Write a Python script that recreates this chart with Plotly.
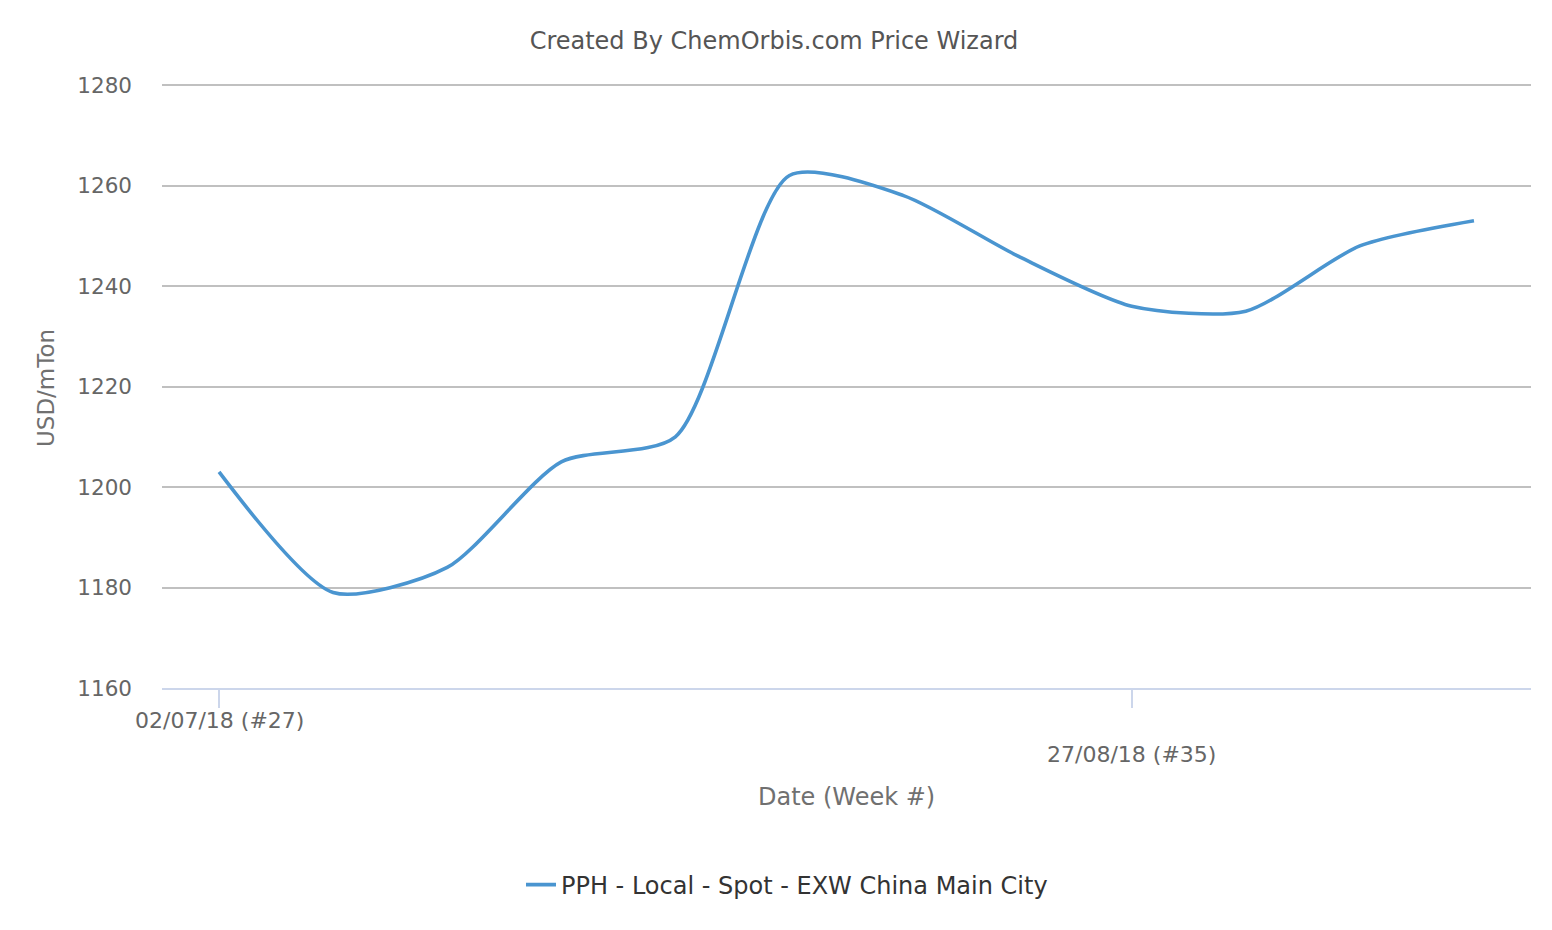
import plotly.graph_objects as go

# ---- data ----
dates = ["2018-07-02", "2018-07-09", "2018-07-16", "2018-07-23", "2018-07-30", "2018-08-06",
         "2018-08-13", "2018-08-20", "2018-08-27", "2018-09-03", "2018-09-10", "2018-09-17"]
prices = [1203, 1179, 1184, 1205, 1210, 1262, 1258, 1246, 1236, 1235, 1248, 1253]
series_name = "PPH - Local - Spot - EXW China Main City"
tick_dates = ["2018-07-02", "2018-08-27"]
tick_labels = ["02/07/18 (#27)", "27/08/18 (#35)"]
y_ticks = [1160, 1180, 1200, 1220, 1240, 1260, 1280]

FONT = "DejaVu Sans"
W, H = 1552, 930
OFF = 8  # page body margin
Y_TOP = 1282  # small headroom so the 1280 gridline is drawn
PX_PER_UNIT = (688 - 85) / 120
plot_top = 688 - (Y_TOP - 1160) * PX_PER_UNIT

fig = go.Figure()
fig.add_trace(go.Scatter(
    x=dates, y=prices, mode="lines", name=series_name,
    line=dict(color="#4a95d0", width=3.6, shape="spline", smoothing=0.7),
    showlegend=True,
))

fig.update_layout(
    width=W, height=H,
    margin=dict(l=162 - OFF, r=W - (1531 - OFF), t=round(plot_top) - OFF, b=H - (688 - OFF)),
    paper_bgcolor="white", plot_bgcolor="white",
    font=dict(family=FONT, color="#666666"),
    title=dict(text="Created By ChemOrbis.com Price Wizard", x=(774 - OFF) / W, xref="container",
               xanchor="center", y=1 - (41 - OFF) / H, yref="container", yanchor="middle",
               font=dict(family=FONT, size=24, color="#555555")),
    legend=dict(orientation="h", xref="container", yref="container",
                x=(787 - OFF) / W, xanchor="center", y=1 - (885 - OFF) / H, yanchor="middle",
                font=dict(family=FONT, size=24, color="#333333"),
                itemwidth=30),
    showlegend=True,
)

fig.update_xaxes(
    type="date",
    range=["2018-06-28 12:00", "2018-09-20 12:00"],
    tickvals=tick_dates, ticktext=["", ""],
    ticks="outside", ticklen=18, tickwidth=2, tickcolor="#ccd6eb",
    showline=True, linecolor="#ccd6eb", linewidth=2,
    showgrid=False, zeroline=False,
)
fig.update_yaxes(
    range=[1160, Y_TOP], tickvals=y_ticks,
    showgrid=True, gridcolor="#c0c0c0", gridwidth=2,
    ticks="", ticklabelstandoff=29,
    tickfont=dict(family=FONT, size=21.5, color="#666666"),
    showline=False, zeroline=False,
)

# staggered x tick labels
offsets = [32, 66]
for d, lab, off in zip(tick_dates, tick_labels, offsets):
    fig.add_annotation(x=d, xref="x", y=0, yref="paper", yshift=-off,
                       text=lab, showarrow=False, xanchor="center", yanchor="middle",
                       font=dict(family=FONT, size=22, color="#666666"))

# axis titles
fig.add_annotation(x=(846 - OFF - (162 - OFF)) / (1531 - 162), xref="paper", y=0, yref="paper", yshift=-109,
                   text="Date (Week #)", showarrow=False, xanchor="center", yanchor="middle",
                   font=dict(family=FONT, size=24, color="#707070"))
fig.add_annotation(x=0, xref="paper", xshift=-116, y=(688 - 388) / (688 - plot_top), yref="paper",
                   text="USD/mTon", textangle=-90, showarrow=False,
                   xanchor="center", yanchor="middle",
                   font=dict(family=FONT, size=23, color="#707070"))

fig.write_html("out.html")
